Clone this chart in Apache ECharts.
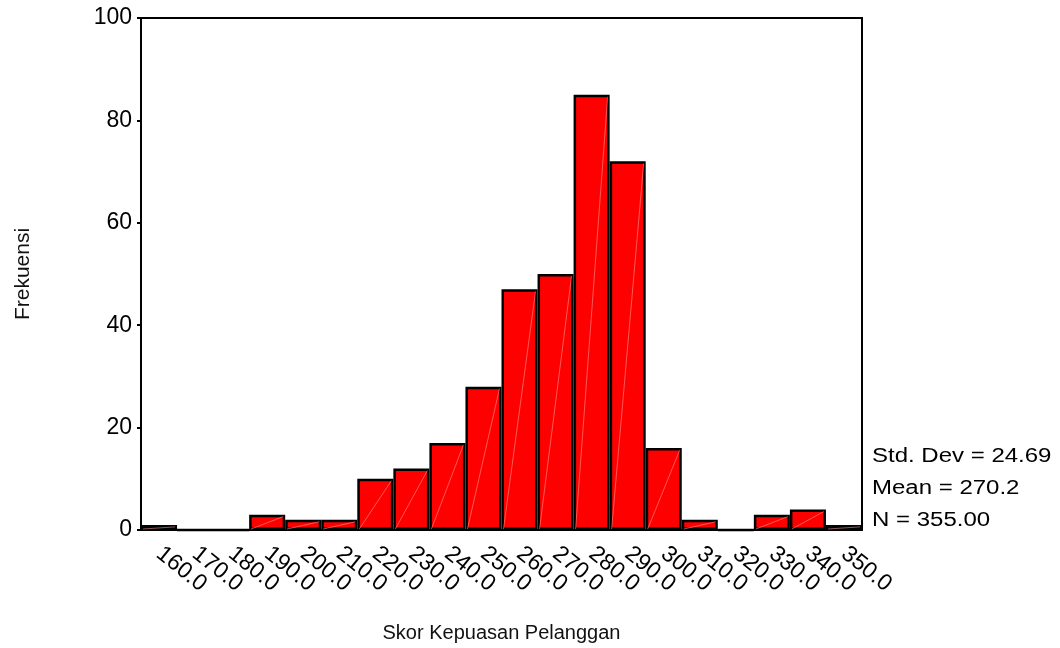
<!DOCTYPE html>
<html>
<head>
<meta charset="utf-8">
<script src="https://cdn.jsdelivr.net/npm/echarts@6/dist/echarts.min.js"></script>
<style>
  html, body { margin: 0; padding: 0; background: #fff; }
  #hist { width: 1060px; height: 648px; }
</style>
</head>
<body>
<div id="hist"></div>
<script>
// kelas skor (titik tengah) dan frekuensi
var kelas = ['160.0', '170.0', '180.0', '190.0', '200.0', '210.0', '220.0', '230.0', '240.0', '250.0',
             '260.0', '270.0', '280.0', '290.0', '300.0', '310.0', '320.0', '330.0', '340.0', '350.0'];
var frekuensi = [1, 0, 0, 3, 2, 2, 10, 12, 17, 28, 47, 50, 85, 72, 16, 2, 0, 3, 4, 1];
var yTicks = [0, 20, 40, 60, 80, 100];
var statistik = ['Std. Dev = 24.69', 'Mean = 270.2', 'N = 355.00'];

var font = 'Liberation Sans, Arial, sans-serif';

//garis tipis diagonal di dalam batang (seperti keluaran SPSS)
function diagonal(params, api) {
    var v = api.value(1);
    if (!v) return;
    var lo = api.coord([api.value(0), 0]);
    var hi = api.coord([api.value(0), v]);
    var w = api.size([1, 0])[0];
    return {
        type: 'line',
        shape: { x1: lo[0] - w / 2 + 2, y1: lo[1] - 1, x2: lo[0] + w / 2 - 2, y2: hi[1] + 2 },
        style: { stroke: 'rgba(255,160,160,0.55)', lineWidth: 1 }
    };
}

function drawHist() {
    var myChart = echarts.init(document.getElementById('hist'));
    var option = {
        animation: false,
        textStyle: { fontFamily: font },
        grid: {
            left: 141, right: 198, top: 18, bottom: 117.5,
            show: true, borderColor: '#000', borderWidth: 2
        },
        xAxis: {
            type: 'category',
            data: kelas,
            boundaryGap: true,
            name: 'Skor Kepuasan Pelanggan',
            nameLocation: 'middle',
            nameGap: 93,
            nameTextStyle: { fontSize: 20, color: '#111', fontFamily: font },
            axisLine: { lineStyle: { color: '#000', width: 2 } },
            axisTick: { alignWithLabel: true, interval: 0, length: 4, lineStyle: { color: '#222', width: 6 } },
            axisLabel: { interval: 0, rotate: -39, margin: 21, fontSize: 23, color: '#000', fontFamily: font }
        },
        yAxis: {
            type: 'value',
            min: yTicks[0],
            max: yTicks[yTicks.length - 1],
            interval: 20,
            name: 'Frekuensi',
            nameLocation: 'middle',
            nameGap: 107,
            nameTextStyle: { fontSize: 21, color: '#111', fontFamily: font },
            splitLine: { show: false },
            axisLine: { show: true, lineStyle: { color: '#000', width: 2 } },
            axisTick: { show: true, length: 4, lineStyle: { color: '#000', width: 2 } },
            axisLabel: { fontSize: 23, color: '#000', margin: 9, fontFamily: font }
        },
        series: [{
            type: 'bar',
            data: frekuensi,
            barCategoryGap: 0,
            itemStyle: { color: '#ff0000', borderColor: '#000', borderWidth: 2.5 }
        }, {
            type: 'custom',
            renderItem: diagonal,
            data: frekuensi.map(function (v, i) { return [i, v]; }),
            z: 3,
            silent: true
        }],
        graphic: statistik.map(function (t, i) {
            return {
                type: 'text',
                x: 872,
                y: 456 + i * 32,
                scaleX: 1.2,
                style: { text: t, fontSize: 20, fill: '#000', fontFamily: font, verticalAlign: 'middle', align: 'left' }
            };
        })
    };
    myChart.setOption(option);
}

drawHist();
</script>
</body>
</html>
